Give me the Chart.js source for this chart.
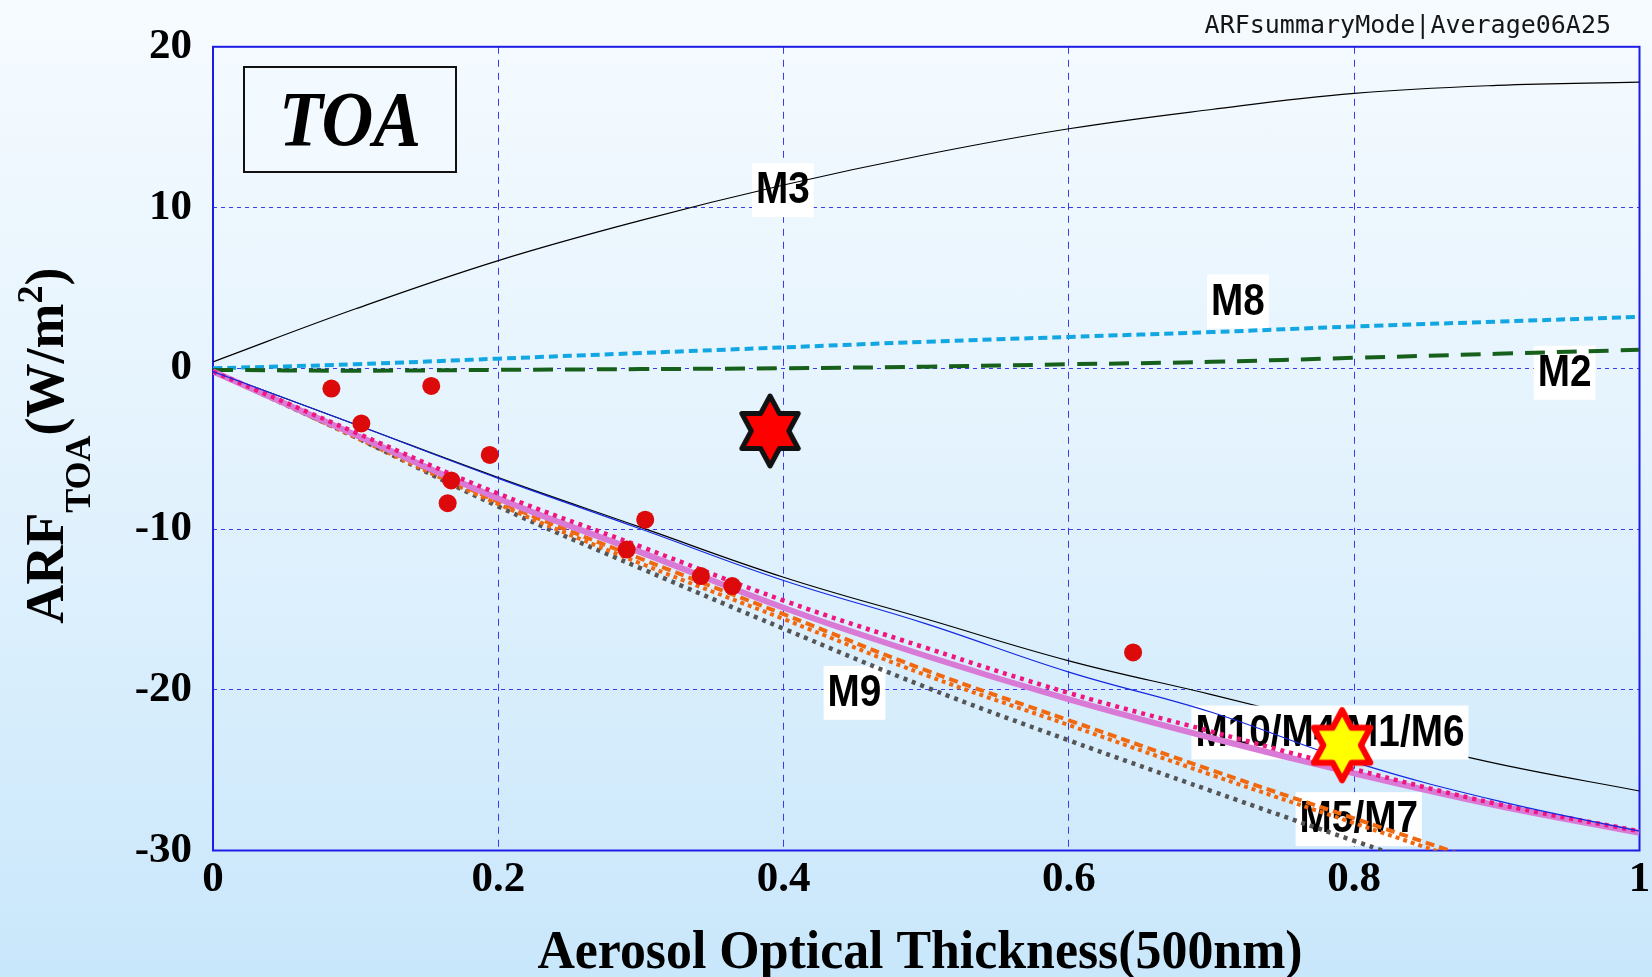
<!DOCTYPE html>
<html lang="en">
<head>
    <meta charset="UTF-8">
    <title>ARF TOA vs Aerosol Optical Thickness</title>
    <script src="https://cdn.jsdelivr.net/npm/chart.js"></script>
    <style>
        html, body {
            margin: 0;
            padding: 0;
        }
        body {
            width: 1652px;
            height: 977px;
            overflow: hidden;
            background: linear-gradient(to bottom, #f6fbff 0%, #e2f2fd 50%, #c9e7fb 100%);
        }
    </style>
</head>
<body>
    <canvas id="arfChart" width="1652" height="977"></canvas>

    <script>
        // x positions (AOT at 500nm)
        const aot = [0, 0.1, 0.2, 0.3, 0.4, 0.5, 0.6, 0.7, 0.8, 0.9, 1.0];

        // model curves (W/m2)
        const m3  = [0.4, 3.7, 6.7, 9.2, 11.4, 13.3, 14.9, 16.1, 17.1, 17.6, 17.8];
        const m8  = [0.0, 0.25, 0.6, 0.95, 1.3, 1.65, 1.95, 2.25, 2.6, 2.9, 3.2];
        const m2  = [-0.1, -0.15, -0.1, -0.05, 0.0, 0.1, 0.25, 0.4, 0.65, 0.9, 1.15];
        const m9  = [-0.2, -4.3, -8.6, -12.45, -16.2, -19.85, -23.15, -26.3, -29.4, -32.4];
        const m5  = [-0.2, -4.2, -8.3, -11.85, -15.3, -18.8, -21.9, -25.0, -28.0, -31.0];
        const m7  = [-0.2, -4.3, -8.45, -12.15, -15.6, -19.1, -22.2, -25.3, -28.3, -31.3];
        const m10 = [-0.2, -4.15, -8.1, -11.45, -14.9, -17.9, -20.6, -23.0, -25.2, -27.2, -28.9];
        const m6  = [-0.2, -4.0, -7.8, -11.1, -14.45, -17.4, -20.2, -22.6, -24.95, -27.1, -28.8];
        const m4  = [-0.2, -3.5, -6.85, -10.0, -13.2, -15.9, -18.9, -21.4, -24.5, -26.9, -28.8];
        const m1  = [-0.2, -3.5, -6.8, -9.9, -13.0, -15.6, -18.2, -20.3, -22.5, -24.6, -26.3];

        // observations
        const obsX = [0.083, 0.104, 0.153, 0.194, 0.167, 0.1645, 0.303, 0.290, 0.342, 0.364, 0.645];
        const obsY = [-1.26, -3.43, -1.1, -5.39, -6.98, -8.39, -9.42, -11.28, -12.93, -13.55, -17.68];
        const avgStarX = [0.3905];
        const avgStarY = [-3.9];
        const satStarX = [0.7915];
        const satStarY = [-23.45];

        // curve labels
        const labelText = ['M3', 'M8', 'M2', 'M9', 'M10/M4/M1/M6', 'M5/M7'];
        const labelX = [0.3995, 0.7185, 0.9475, 0.4497, 0.783, 0.8032];
        const labelY = [11.08, 4.16, -0.28, -20.19, -22.66, -28.05];

        // axes
        const xTicks = [0, 0.2, 0.4, 0.6, 0.8, 1.0];
        const xTickLabels = ['0', '0.2', '0.4', '0.6', '0.8', '1'];
        const yTicks = [-30, -20, -10, 0, 10, 20];
        const yTickLabels = ['-30', '-20', '-10', '0', '10', '20'];

        function pts(xs, ys) {
            return ys.map((y, i) => ({x: xs[i], y: y}));
        }

        let drawOrder = 100;
        function curve(label, values, color, width, dash) {
            return {
                type: 'line',
                label: label,
                data: pts(aot, values),
                borderColor: color,
                borderWidth: width,
                borderDash: dash,
                pointRadius: 0,
                tension: 0.4,
                fill: false,
                order: drawOrder--
            };
        }

        function hexagram(R, fill, stroke, lw) {
            const size = Math.ceil(2 * (R + lw) + 6);
            const c = document.createElement('canvas');
            c.width = size;
            c.height = size;
            const g = c.getContext('2d');
            g.translate(size / 2, size / 2);
            g.beginPath();
            for (let k = 0; k < 12; k++) {
                const r = k % 2 === 0 ? R : R / Math.sqrt(3);
                const a = -Math.PI / 2 + k * Math.PI / 6;
                const px = r * Math.cos(a) * 0.93;
                const py = r * Math.sin(a);
                if (k === 0) g.moveTo(px, py); else g.lineTo(px, py);
            }
            g.closePath();
            g.fillStyle = fill;
            g.fill();
            g.lineWidth = lw;
            g.strokeStyle = stroke;
            g.lineJoin = 'round';
            g.stroke();
            return c;
        }

        const lastCurve = curve('M1', m1, '#000000', 1.2, []);
        lastCurve.labelsAfter = true;

        const datasets = [
            curve('M3', m3, '#000000', 1.2, []),
            curve('M8', m8, '#12a6e2', 4, [9, 5]),
            curve('M2', m2, '#17601c', 4, [20, 12]),
            curve('M9', m9, '#555555', 4.5, [4, 5]),
            curve('M5', m5, '#f2680f', 4, [9, 5]),
            curve('M7', m7, '#f2680f', 4, [4, 4]),
            curve('M10', m10, '#d97ad6', 6, []),
            curve('M6', m6, '#f0157f', 4.5, [4, 5]),
            curve('M4', m4, '#1428e0', 1.2, []),
            lastCurve,
            {
                type: 'line',
                label: 'obs',
                data: pts(obsX, obsY),
                showLine: false,
                pointRadius: 9,
                pointBackgroundColor: '#dc0a0a',
                pointBorderWidth: 0,
                order: 3
            },
            {
                type: 'line',
                label: 'average',
                data: pts(avgStarX, avgStarY),
                showLine: false,
                pointRadius: 20,
                pointStyle: hexagram(35, '#ff0000', '#111111', 5),
                order: 2
            },
            {
                type: 'line',
                label: 'satellite',
                data: pts(satStarX, satStarY),
                showLine: false,
                pointRadius: 20,
                pointStyle: hexagram(35, '#ffff00', '#ff0000', 6),
                order: 1
            }
        ];

        function drawCurveLabels(chart) {
            const ctx = chart.ctx;
            const sx = 0.88;
            ctx.save();
            ctx.font = 'bold 44px "Liberation Sans", Arial, sans-serif';
            labelText.forEach((t, i) => {
                const cx = chart.scales.x.getPixelForValue(labelX[i]);
                const cy = chart.scales.y.getPixelForValue(labelY[i]);
                const w = ctx.measureText(t).width * sx + 8;
                const h = 54;
                ctx.fillStyle = '#ffffff';
                ctx.fillRect(cx - w / 2, cy - h / 2, w, h);
                ctx.save();
                ctx.translate(cx, cy);
                ctx.scale(sx, 1);
                ctx.fillStyle = '#000000';
                ctx.textAlign = 'center';
                ctx.textBaseline = 'middle';
                ctx.fillText(t, 0, 1);
                ctx.restore();
            });
            ctx.restore();
        }

        const decorations = {
            id: 'decorations',
            beforeDatasetsDraw(chart) {
                const {ctx, chartArea: a} = chart;
                ctx.save();
                ctx.strokeStyle = '#1c1ce6';
                ctx.lineWidth = 2;
                ctx.strokeRect(a.left, a.top, a.right - a.left, a.bottom - a.top);
                ctx.restore();
            },
            afterDatasetDraw(chart, args) {
                if (chart.data.datasets[args.index].labelsAfter) drawCurveLabels(chart);
            },
            afterDraw(chart) {
                const {ctx, chartArea: a} = chart;
                ctx.save();

                // TOA box
                ctx.fillStyle = 'rgba(244, 250, 255, 0.6)';
                ctx.fillRect(244, 67, 212, 105);
                ctx.strokeStyle = '#111111';
                ctx.lineWidth = 2;
                ctx.strokeRect(244, 67, 212, 105);
                ctx.save();
                ctx.translate(350, 145);
                ctx.scale(0.92, 1);
                ctx.font = 'italic bold 78px "Liberation Serif", "Times New Roman", serif';
                ctx.fillStyle = '#000000';
                ctx.textAlign = 'center';
                ctx.textBaseline = 'alphabetic';
                ctx.fillText('TOA', 0, 0);
                ctx.restore();

                // run tag
                ctx.font = '25px "DejaVu Sans Mono", monospace';
                ctx.fillStyle = '#151515';
                ctx.textAlign = 'right';
                ctx.textBaseline = 'alphabetic';
                ctx.fillText('ARFsummaryMode|Average06A25', 1611, 33);

                // x title
                ctx.save();
                ctx.translate(920, 968);
                ctx.scale(0.96, 1);
                ctx.font = 'bold 54px "Liberation Serif", "Times New Roman", serif';
                ctx.textAlign = 'center';
                ctx.fillStyle = '#000000';
                ctx.fillText('Aerosol Optical Thickness(500nm)', 0, 0);
                ctx.restore();

                // y title with sub/superscript
                const mainF = 'bold 54px "Liberation Serif", "Times New Roman", serif';
                const smallF = 'bold 36px "Liberation Serif", "Times New Roman", serif';
                const parts = [
                    {t: 'ARF', f: mainF, dy: 0},
                    {t: 'TOA', f: smallF, dy: 27},
                    {t: '(W/m', f: mainF, dy: 0},
                    {t: '2', f: smallF, dy: -21},
                    {t: ')', f: mainF, dy: 0}
                ];
                let total = 0;
                parts.forEach(p => { ctx.font = p.f; p.w = ctx.measureText(p.t).width; total += p.w; });
                ctx.save();
                ctx.translate(63, (a.top + a.bottom) / 2 - 3);
                ctx.rotate(-Math.PI / 2);
                ctx.textAlign = 'left';
                ctx.fillStyle = '#000000';
                let px = -total / 2;
                parts.forEach(p => {
                    ctx.font = p.f;
                    ctx.fillText(p.t, px, p.dy);
                    px += p.w;
                });
                ctx.restore();

                ctx.restore();
            }
        };

        new Chart(document.getElementById('arfChart').getContext('2d'), {
            type: 'line',
            data: {datasets: datasets},
            plugins: [decorations],
            options: {
                responsive: false,
                animation: false,
                layout: {
                    autoPadding: false,
                    padding: {top: 43.5, right: 12.5, left: 0, bottom: 0}
                },
                plugins: {
                    legend: {display: false},
                    tooltip: {enabled: false}
                },
                scales: {
                    x: {
                        type: 'linear',
                        min: 0,
                        max: 1,
                        afterBuildTicks: s => { s.ticks = xTicks.map(v => ({value: v})); },
                        afterFit: s => {
                            s.height = 126.5;
                            s.paddingLeft = 0;
                            s.paddingRight = 0;
                        },
                        ticks: {
                            callback: (v, i) => xTickLabels[i],
                            font: {family: '"Liberation Serif", "Times New Roman", serif', size: 43, weight: 'bold'},
                            color: '#000000',
                            padding: 4,
                            maxRotation: 0,
                            autoSkip: false
                        },
                        grid: {color: '#3a3aee', lineWidth: 1, drawTicks: false},
                        border: {display: false, dash: [7, 6]}
                    },
                    y: {
                        type: 'linear',
                        min: -30,
                        max: 20,
                        afterBuildTicks: s => { s.ticks = yTicks.map(v => ({value: v})); },
                        afterFit: s => { s.width = 213; },
                        ticks: {
                            callback: (v, i) => yTickLabels[i],
                            font: {family: '"Liberation Serif", "Times New Roman", serif', size: 43, weight: 'bold'},
                            color: '#000000',
                            padding: 21,
                            autoSkip: false
                        },
                        grid: {color: '#3a3aee', lineWidth: 1, drawTicks: false},
                        border: {display: false, dash: [4, 4]}
                    }
                }
            }
        });
    </script>
</body>
</html>
